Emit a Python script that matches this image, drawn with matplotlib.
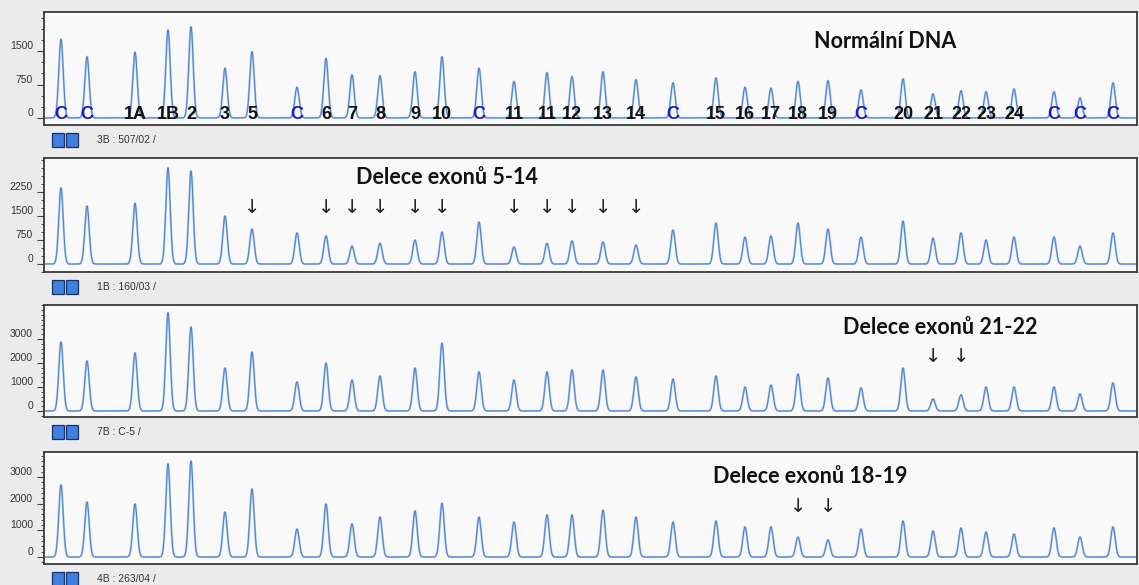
import numpy as np
import matplotlib.pyplot as plt
from matplotlib.patches import Rectangle
from matplotlib.ticker import MultipleLocator

# peak names and scan positions (same for all four runs)
peak_names = ['C', 'C', '1A', '1B', '2', '3', '5', 'C', '6', '7', '8', '9', '10', 'C',
              '11', '11', '12', '13', '14', 'C', '15', '16', '17', '18', '19', 'C',
              '20', '21', '22', '23', '24', 'C', 'C', 'C']
peak_pos = [17, 43, 91, 124, 147, 181, 208, 253, 282, 308, 336, 371, 398, 435,
            470, 503, 528, 559, 592, 629, 672, 701, 727, 754, 784, 817,
            859, 889, 917, 942, 970, 1010, 1036, 1069]

# peak heights (RFU)
normal = [1770, 1380, 1480, 1980, 2050, 1120, 1490, 690, 1340, 970, 950, 1040, 1380, 1120,
          820, 1020, 930, 1040, 860, 790, 900, 690, 670, 820, 840, 630,
          880, 540, 610, 590, 650, 590, 450, 790]
del_5_14 = [2375, 1810, 1900, 3000, 2900, 1500, 1090, 970, 875, 560, 650, 750, 1000, 1310,
            530, 650, 720, 690, 590, 1060, 1280, 840, 875, 1280, 1090, 840,
            1340, 810, 970, 750, 840, 840, 560, 970]
del_21_22 = [2880, 2085, 2420, 4090, 3500, 1790, 2460, 1210, 2000, 1290, 1460, 1790, 2830, 1630,
             1290, 1630, 1710, 1710, 1420, 1330, 1460, 1000, 1080, 1540, 1380, 960,
             1790, 500, 670, 1000, 1000, 1000, 710, 1170]
del_18_19 = [2700, 2060, 1990, 3490, 3600, 1690, 2550, 1050, 1990, 1240, 1500, 1730, 2020, 1500,
             1310, 1580, 1580, 1760, 1500, 1310, 1350, 1130, 1130, 750, 640, 1050,
             1350, 975, 1090, 940, 860, 1090, 750, 1130]

sample_ids = ['3B : 507/02 /', '1B : 160/03 /', '7B : C-5 /', '4B : 263/04 /']
titles = ['Normální DNA', 'Delece exonů 5-14', 'Delece exonů 21-22', 'Delece exonů 18-19']
deleted = [[], [6, 8, 9, 10, 11, 12, 14, 15, 16, 17, 18], [27, 28], [23, 24]]
label_max = [1500, 2250, 3000, 3000]

# panel layout: (bottom, height) in figure fraction, y-range, major/minor step
panels = [
    (0.7863, 0.1932, (-160, 2385), 750, 250),
    (0.5350, 0.1949, (-250, 3312), 750, 250),
    (0.2872, 0.1915, (-250, 4420), 1000, 200),
    (0.0359, 0.1915, (-262, 3940), 1000, 200),
]
title_xy = [(841, 0.743), (403, 0.825), (896, 0.795), (766, 0.777)]
arrow_y = [None, 0.57, 0.536, 0.51]

heights = [normal, del_5_14, del_21_22, del_18_19]

fig = plt.figure(figsize=(11.39, 5.85), dpi=100, facecolor='#ebebeb')
x = np.linspace(0, 1093, 8000)
sigma = 2.2
left, width = 44 / 1139, 1093 / 1139

for k, (bottom, h, ylim, major, minor) in enumerate(panels):
    ax = fig.add_axes([left, bottom, width, h], facecolor='#f9f9f9')
    trace = np.zeros_like(x)
    for p, v in zip(peak_pos, heights[k]):
        trace += v * np.exp(-(x - p) ** 2 / (2 * sigma ** 2))
    ax.plot(x, trace, color='#a3c2ec', lw=1.5, solid_joinstyle='round')
    ax.plot(x, trace, color='#4f80cc', lw=0.7)
    ax.set_xlim(0, 1093)
    ax.set_ylim(*ylim)
    ax.set_xticks([])
    ax.yaxis.set_minor_locator(MultipleLocator(minor))
    ax.set_yticks(np.arange(0, label_max[k] + 1, major))
    ax.tick_params(axis='y', which='major', length=5, width=0.8, pad=3,
                   labelsize=7.5, labelcolor='#333333', color='#444444')
    ax.tick_params(axis='y', which='minor', length=2.5, width=0.7, color='#444444')
    for lbl in ax.get_yticklabels():
        lbl.set_verticalalignment('bottom')
        lbl.set_fontfamily('Liberation Sans')
    for s in ax.spines.values():
        s.set_color('#3a3a3a')
        s.set_linewidth(1.3)

    tx, ty = title_xy[k]
    ax.text(tx, ty, titles[k], transform=ax.get_xaxis_transform(), ha='center',
            va='center', fontsize=15.5, fontweight='bold', family='Lato', color='#111111')

    if k == 0:
        for p, name in zip(peak_pos, peak_names):
            ax.text(p, 0.09, name, transform=ax.get_xaxis_transform(), ha='center',
                    va='center', fontsize=13, fontweight='bold', family='Liberation Sans',
                    color='#1c1cc8' if name == 'C' else '#111111')
    for i in deleted[k]:
        ax.text(peak_pos[i], arrow_y[k], '↓', transform=ax.get_xaxis_transform(),
                ha='center', va='center', fontsize=14, color='#222222')

    # sample strip under each panel
    sy = bottom - 15 / 585
    for j in range(2):
        fig.patches.append(Rectangle((52 / 1139 + j * 13.5 / 1139, sy - 7 / 585),
                                     12 / 1139, 14 / 585, transform=fig.transFigure,
                                     facecolor='#3f7fe0', edgecolor='#1a2f66', lw=0.9))
    fig.text(97 / 1139, sy, sample_ids[k], ha='left', va='center', fontsize=7.5,
             family='Liberation Sans', color='#333333')

fig.savefig('out.png', dpi=100, facecolor=fig.get_facecolor())
